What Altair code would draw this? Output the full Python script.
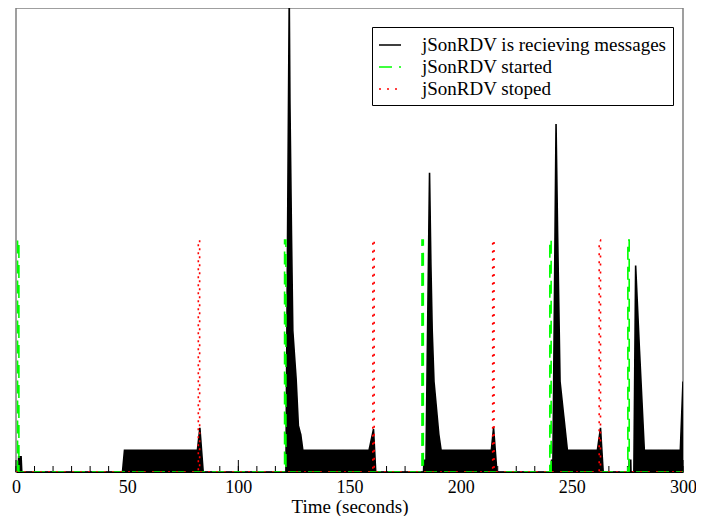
import altair as alt
import pandas as pd

# ---- data ----
recv_t = [0.0, 0.9, 1.2, 2.3, 2.6,
          47.9, 48.8, 81.6, 82.7, 84.2,
          121.4, 122.9, 123.2, 123.9, 124.5, 126.0, 127.0, 128.1, 129.0, 158.8, 160.8, 161.8,
          183.3, 183.5, 184.4, 186.0, 186.6, 187.2, 188.0, 190.2, 191.2, 213.8, 214.8, 216.3,
          240.7, 240.9, 241.5, 242.9, 243.6, 244.7, 248.0, 261.5, 262.9, 264.1,
          275.7, 275.8, 276.5, 276.6, 277.9, 278.7, 280.4, 282.6, 298.8, 300.0]
recv_v = [0, 0, 0.065, 0.065, 0,
          0, 0.094, 0.094, 0.19, 0,
          0, 2.05, 1.6, 1.03, 0.61, 0.40, 0.20, 0.16, 0.094, 0.094, 0.185, 0,
          0, 0.05, 0.05, 1.29, 0.9, 0.61, 0.39, 0.16, 0.094, 0.094, 0.19, 0,
          0, 0.05, 0.05, 1.50, 1.03, 0.39, 0.094, 0.094, 0.19, 0,
          0, 0.05, 0.05, 0, 0, 0.89, 0.53, 0.094, 0.094, 0.39]

started_events = [0.7, 120.8, 182.6, 240.1, 275.2]
stopped_events = [82.0, 160.5, 214.4, 262.3]
event_level = 1.0
event_width = 0.6

series_names = ["jSonRDV is recieving messages", "jSonRDV started", "jSonRDV stoped"]
series_colors = ["black", "#00ff00", "#ff0000"]
series_dash = [[1, 0], [13, 7], [2, 6]]

x_labels = [0, 50, 100, 150, 200, 250, 300]
minor_ticks = [i * 50 / 6 for i in range(0, 37)]
x_min, x_max = 0, 300

FONT = "Liberation Serif"

# ---- build tables ----
rows = []
i = 0
for t, v in zip(recv_t, recv_v):
    rows.append({"series": series_names[0], "t": t, "v": v, "i": i}); i += 1


def steps(name, events):
    global i
    pts = [(x_min, 0)]
    for e in events:
        pts += [(e, 0), (e, event_level), (e + event_width, event_level), (e + event_width, 0)]
    pts.append((x_max, 0))
    for t, v in pts:
        rows.append({"series": name, "t": t, "v": v, "i": i}); i += 1


steps(series_names[1], started_events)
steps(series_names[2], stopped_events)
df = pd.DataFrame(rows)
recv_df = df[df.series == series_names[0]]

W, H = 667, 464
xs = alt.Scale(domain=[x_min, x_max], nice=False, zero=False)
ys = alt.Scale(domain=[0, 2], nice=False)

xaxis = alt.Axis(values=x_labels, ticks=False, grid=False, domainColor="black", domainWidth=1,
                 labelFont=FONT, labelFontSize=18, labelColor="black",
                 labelPadding=6, labelFlush=False, format="d",
                 title="Time (seconds)", titleFont=FONT, titleFontSize=19,
                 titleFontWeight="normal", titleColor="black", titlePadding=1)

area = alt.Chart(recv_df).mark_area(color="black", orient="vertical", clip=True,
                                    interpolate="linear").encode(
    x=alt.X("t:Q", scale=xs, axis=xaxis),
    y=alt.Y("v:Q", scale=ys, axis=None),
)

legend = alt.Legend(title=None, orient="none", legendX=356, legendY=19,
                    strokeColor="black", fillColor="white", padding=6,
                    labelFont=FONT, labelFontSize=19, labelColor="black",
                    symbolType="stroke", symbolSize=484, symbolStrokeWidth=1.5,
                    labelOffset=20, rowPadding=0, labelLimit=500)

lines = alt.Chart(df).mark_line(clip=True, strokeWidth=1.6, interpolate="linear").encode(
    x=alt.X("t:Q", scale=xs),
    y=alt.Y("v:Q", scale=ys),
    color=alt.Color("series:N", sort=series_names,
                    scale=alt.Scale(domain=series_names, range=series_colors), legend=legend),
    strokeDash=alt.StrokeDash("series:N", sort=series_names,
                              scale=alt.Scale(domain=series_names, range=series_dash),
                              legend=legend),
    order=alt.Order("i:Q"),
)

major_df = pd.DataFrame({"t": x_labels})
minor_df = pd.DataFrame({"t": minor_ticks})
major = alt.Chart(major_df).mark_rule(color="black", strokeWidth=1).encode(
    x=alt.X("t:Q", scale=xs), y=alt.value(H), y2=alt.value(H - 12))
minor = alt.Chart(minor_df).mark_rule(color="black", strokeWidth=1).encode(
    x=alt.X("t:Q", scale=xs), y=alt.value(H), y2=alt.value(H - 6))

chart = alt.layer(minor, major, area, lines).properties(
    width=W, height=H,
    autosize=alt.AutoSizeParams(type="none"),
    padding={"left": 8, "top": 0, "right": 13, "bottom": 44},
).configure_view(stroke="#808080", strokeWidth=1.5)

chart.save("out.html", embed_options={"renderer": "svg", "actions": False})
